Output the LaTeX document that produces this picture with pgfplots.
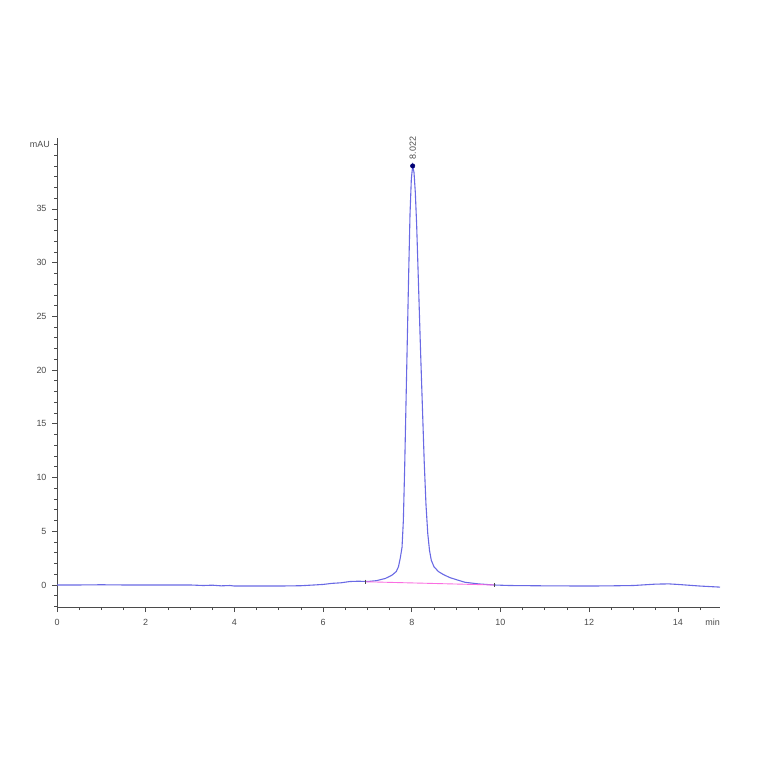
\documentclass[border=0pt]{standalone}
\usepackage{pgfplots}
\pgfplotsset{compat=1.18}
\usepackage{fontspec}
\setmainfont{Liberation Sans}

\definecolor{trace}{RGB}{105,105,228}
\definecolor{basel}{RGB}{250,110,225}
\definecolor{axgray}{RGB}{75,75,75}

\begin{document}
\begin{tikzpicture}
\useasboundingbox (-57bp,-157bp) rectangle (707bp,607bp);
\begin{axis}[
    scale only axis,
    width=663bp, height=469bp,
    xmin=0, xmax=14.95,
    ymin=-2.05, ymax=41.6,
    axis lines*=left,
    axis line style={axgray, line width=0.9pt},
    tick align=outside,
    major tick length=5bp,
    minor tick length=3bp,
    every tick/.style={axgray, line width=0.7pt},
    xtick={0,2,...,14},
    minor xtick={0,0.5,...,14.5},
    ytick={0,5,...,35},
    minor ytick={-2,-1,...,41},
    tick label style={font=\fontsize{9}{10}\selectfont, text=axgray},
    xticklabel style={yshift=-4bp},
    yticklabel style={xshift=-2bp},
    /pgf/number format/assume math mode=true,
    clip=false,
]
% chromatogram trace
\addplot[trace, line width=1.1pt] coordinates {
    (0,0) (0.5,0.0) (1.0,0.02) (1.5,0.0) (2.0,0.0) (2.5,0.0) (3.0,0.0)
    (3.3,-0.05) (3.5,-0.02) (3.7,-0.08) (3.9,-0.05) (4.0,-0.1) (4.5,-0.1)
    (5.0,-0.1) (5.5,-0.07) (5.8,0.0) (6.0,0.05) (6.2,0.15) (6.4,0.2)
    (6.6,0.32) (6.8,0.35) (7.0,0.32) (7.2,0.4) (7.4,0.6) (7.55,0.9)
    (7.65,1.25) (7.70,1.7) (7.74,2.5) (7.78,3.5) (7.81,6) (7.84,11)
    (7.87,17) (7.90,23) (7.93,29) (7.96,34.5) (7.99,37.8) (8.02,39.0)
    (8.05,38.4) (8.08,36.5) (8.11,33.5) (8.14,29.5) (8.17,25.5) (8.20,21.5)
    (8.24,16.5) (8.28,11.5) (8.32,7.5) (8.36,4.8) (8.40,3.2) (8.44,2.3)
    (8.50,1.7) (8.60,1.25) (8.70,1.0) (8.85,0.7) (9.0,0.5) (9.2,0.25)
    (9.5,0.1) (9.85,0.0) (10.2,-0.05) (11,-0.08) (12,-0.1) (12.5,-0.08)
    (13,-0.05) (13.5,0.08) (13.8,0.1) (14.0,0.05) (14.5,-0.1) (14.95,-0.2)
};
% integration baseline
\addplot[basel, line width=0.9pt, mark=|, mark size=2bp,
    mark options={axgray, line width=0.5pt}] coordinates {(6.95,0.3) (9.85,0.0)};
% apex marker
\addplot[only marks, mark=*, mark size=2.3bp, color=blue!45!black] coordinates {(8.02,39.0)};
\node[rotate=90, anchor=west, inner sep=0pt, text=axgray,
    font=\fontsize{9}{10}\selectfont] at (axis cs:8.02,39.6) {8.022};
\node[anchor=east, inner sep=0pt, text=axgray,
    font=\fontsize{9}{10}\selectfont] at ([xshift=-7bp]axis cs:0,41) {mAU};
\node[anchor=north east, inner sep=0pt, text=axgray,
    font=\fontsize{9}{10}\selectfont] at ([yshift=-12bp]axis cs:14.95,-2.05) {min};
\end{axis}
\end{tikzpicture}
\end{document}
